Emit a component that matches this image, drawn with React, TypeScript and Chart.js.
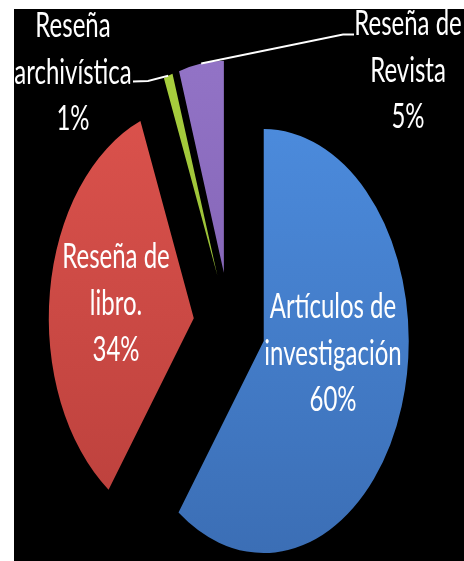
import React, { useEffect, useRef } from "react";
import { Chart, registerables } from "chart.js";

Chart.register(...registerables);

// ---- data ----
const categories = [
  "Artículos de investigación",
  "Reseña de libro.",
  "Reseña archivística",
  "Reseña de Revista",
];
const values = [60, 34, 1, 5];
const labelLines = [
  ["Artículos de", "investigación"],
  ["Reseña de", "libro."],
  ["Reseña", "archivística"],
  ["Reseña de", "Revista"],
];

// ---- style / layout ----
const SY = 1.462; // vertical stretch of the whole picture
const RADIUS = 145;
const EXPLODE = 36;
const LINE_H = 31.8;
const FONT = "24px Lato";
const topColors = ["#4e8fe2", "#de544e", "#a8cf3e", "#9273c6"];
const bottomColors = ["#3a6cb2", "#b73e3a", "#88ac2e", "#7656a6"];
// label anchors (centre x, first baseline y) in unscaled canvas units
const labelAnchors = [
  [319, 211.4],
  [102, 177.2],
  [59, 19.2],
  [394, 17.8],
];
// leader lines: from label end to elbow, then to the slice
const leaders: (number[][] | null)[] = [
  null,
  null,
  [
    [119, 49.6],
    [134, 49.2],
  ],
  [
    [340, 17.4],
    [329, 17.4],
  ],
];

const pieCenter = (chart: any) => {
  const a = chart.chartArea;
  return [(a.left + a.right) / 2, (a.top + a.bottom) / 2];
};

const stretchPlugin = {
  id: "stretchExplode",
  beforeDatasetsDraw(chart: any) {
    const meta = chart.getDatasetMeta(0);
    const [cx, cy] = pieCenter(chart);
    meta.data.forEach((arc: any) => {
      const mid = (arc.startAngle + arc.endAngle) / 2;
      arc.x = cx + EXPLODE * Math.cos(mid);
      arc.y = cy + EXPLODE * Math.sin(mid);
    });
    const ctx = chart.ctx;
    ctx.save();
    ctx.scale(1, SY);
  },
  afterDatasetsDraw(chart: any) {
    const ctx = chart.ctx;
    const meta = chart.getDatasetMeta(0);
    const total = values.reduce((s, v) => s + v, 0);

    // leader lines
    ctx.strokeStyle = "#ffffff";
    ctx.lineWidth = 1.4;
    meta.data.forEach((arc: any, i: number) => {
      const pts = leaders[i];
      if (!pts) return;
      const mid = (arc.startAngle + arc.endAngle) / 2;
      const ax = arc.x + arc.outerRadius * Math.cos(mid);
      const ay = arc.y + arc.outerRadius * Math.sin(mid);
      ctx.beginPath();
      ctx.moveTo(pts[0][0], pts[0][1]);
      ctx.lineTo(pts[1][0], pts[1][1]);
      ctx.lineTo(ax, ay);
      ctx.stroke();
    });

    // labels
    ctx.fillStyle = "#ffffff";
    ctx.font = FONT;
    ctx.textAlign = "center";
    ctx.textBaseline = "alphabetic";
    labelLines.forEach((lines, i) => {
      const pct = Math.round((values[i] / total) * 100) + "%";
      const all = [...lines, pct];
      const [x, y] = labelAnchors[i];
      all.forEach((t, k) => ctx.fillText(t, x, y + k * LINE_H));
    });
    ctx.restore();
  },
};

export default function App() {
  const ref = useRef<HTMLCanvasElement | null>(null);
  useEffect(() => {
    if (!ref.current) return;
    const chart = new Chart(ref.current, {
      type: "pie",
      data: {
        labels: categories,
        datasets: [
          {
            data: values,
            radius: RADIUS,
            borderWidth: 0,
            backgroundColor: (c: any) => {
              const chart = c.chart;
              const i = c.dataIndex ?? 0;
              if (!chart.chartArea) return topColors[i];
              const [, cy] = pieCenter(chart);
              const g = chart.ctx.createLinearGradient(0, cy - RADIUS - EXPLODE, 0, cy + RADIUS + EXPLODE);
              g.addColorStop(0, topColors[i]);
              g.addColorStop(1, bottomColors[i]);
              return g;
            },
          } as any,
        ],
      },
      options: {
        animation: false,
        responsive: false,
        layout: { padding: { left: 0, right: 19, top: 0, bottom: 120 } },
        plugins: {
          legend: { display: false },
          tooltip: { enabled: false },
        },
        events: [],
      },
      plugins: [stretchPlugin],
    });
    return () => chart.destroy();
  }, []);
  return (
    <div style={{ position: "absolute", left: 14, top: 9, width: 450, height: 552, background: "#000" }}>
      <canvas ref={ref} width={450} height={552} style={{ width: 450, height: 552, display: "block" }} />
    </div>
  );
}
